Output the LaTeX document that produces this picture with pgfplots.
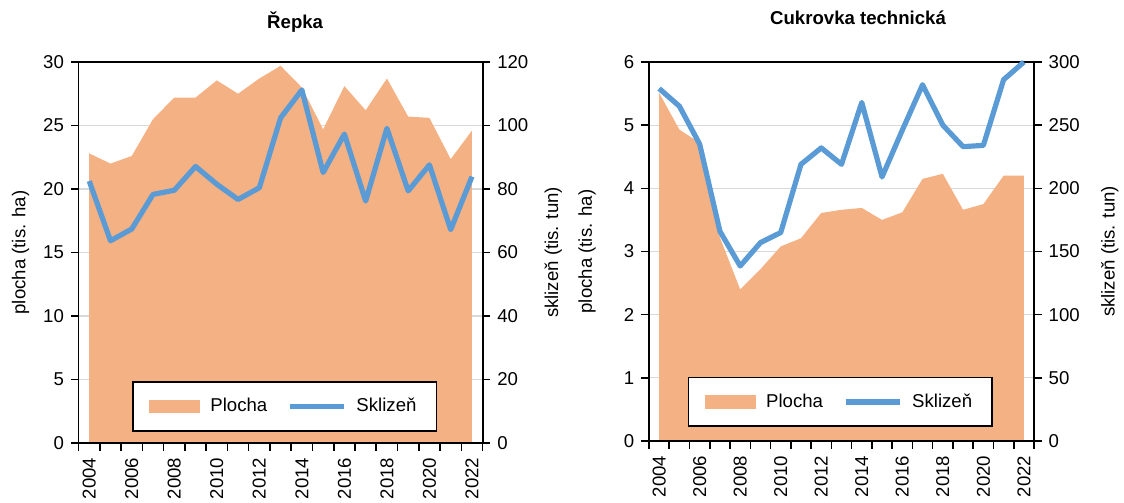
\documentclass[border=0pt]{standalone}
\usepackage{fontspec}
\setmainfont{Liberation Sans}
\usepackage{pgfplots}
\usepackage{pgfplotstable}
\pgfplotsset{compat=1.18}

\definecolor{plocha}{HTML}{F4B183}
\definecolor{sklizen}{HTML}{5B9BD5}
\definecolor{mrizka}{HTML}{D9D9D9}

% rok, plocha (tis. ha), sklizen (tis. tun)
\pgfplotstableread{
rok  plocha sklizen
2004 22.8   82.5
2005 22.0   63.7
2006 22.6   67.4
2007 25.5   78.3
2008 27.2   79.6
2009 27.2   87.1
2010 28.55  81.5
2011 27.5   76.7
2012 28.7   80.4
2013 29.7   102.4
2014 28.0   111.2
2015 24.7   85.2
2016 28.1   97.3
2017 26.2   76.2
2018 28.7   99.1
2019 25.7   79.4
2020 25.6   87.6
2021 22.35  67.2
2022 24.6   83.9
}\repka

\pgfplotstableread{
rok  plocha sklizen
2004 5.51   279
2005 4.93   265
2006 4.72   235
2007 3.22   166
2008 2.40   138.5
2009 2.72   157
2010 3.08   165
2011 3.21   219
2012 3.61   232
2013 3.66   219
2014 3.69   268
2015 3.50   209
2016 3.62   246
2017 4.15   282
2018 4.23   250
2019 3.66   233
2020 3.75   234
2021 4.20   286
2022 4.20   300
}\cukrovka

\newcommand{\fnt}{\fontsize{9.3}{11}\selectfont}

\pgfplotsset{
  zaklad/.style={
    scale only axis,
    xmin=2003.5, xmax=2022.5, ymin=0,
    tick align=outside,
    major tick length=3.8pt, minor tick length=3.8pt,
    axis line style={line width=0.9pt},
    tick style={black, line width=0.8pt},
    tick label style={font=\fnt},
    label style={font=\fnt},
    title style={font=\bfseries\fnt, anchor=center},
    /pgf/number format/assume math mode=true,
    clip=false,
  },
  spodni/.style={
    zaklad,
    xtick={2004,2006,...,2022},
    xticklabels={2004,2006,2008,2010,2012,2014,2016,2018,2020,2022},
    minor xtick={2003.5,2004.5,...,2022.5},
    major x tick style={draw=none},
    xtick pos=left, ytick pos=left,
    xticklabel style={rotate=90, anchor=east},
    ymajorgrids,
    grid style={mrizka, line width=0.6pt},
  },
  horni/.style={
    zaklad,
    xtick=\empty,
    ytick pos=right,
    legend columns=2,
    legend style={draw=black, line width=0.8pt, font=\fnt,
      inner xsep=8pt, inner ysep=6pt,
      /tikz/every odd column/.append style={column sep=3pt},
      /tikz/every even column/.append style={column sep=8pt}},
  },
}

\begin{document}
\begin{tikzpicture}
\useasboundingbox (-39.3pt,-30pt) rectangle (522.7pt,221.5pt);

% ---- Repka ----
\begin{axis}[spodni, at={(0pt,0pt)}, anchor=south west,
    width=202pt, height=190.5pt,
    ymax=30, ytick={0,5,...,30},
    title={Řepka}, title style={at={(0.536,1.0735)}},
    ylabel={plocha (tis. ha)},
    ylabel style={at={(axis description cs:-0.1436,0.5)}, anchor=center}]
\addplot[fill=plocha, draw=none] table[x=rok, y=plocha] {\repka} \closedcycle;
\end{axis}
\begin{axis}[horni, at={(0pt,0pt)}, anchor=south west,
    width=202pt, height=190.5pt,
    ymax=120, ytick={0,20,...,120},
    ylabel={sklizeň (tis. tun)},
    ylabel style={at={(axis description cs:1.175,0.5)}, anchor=center},
    legend style={at={(0.51,0.03)}, anchor=south}]
\addlegendimage{legend image code/.code={\fill[plocha] (0pt,-2.9pt) rectangle (25pt,2.9pt);}}
\addlegendentry{Plocha}
\addplot[sklizen, line width=2.6pt, line join=round,
    legend image code/.code={\draw[sklizen, line width=2.6pt] (0pt,0pt) -- (27pt,0pt);}]
    table[x=rok, y=sklizen] {\repka};
\addlegendentry{Sklizeň}
\end{axis}

% ---- Cukrovka technicka ----
\begin{axis}[spodni, at={(285.2pt,1pt)}, anchor=south west,
    width=192.5pt, height=189.5pt,
    ymax=6, ytick={0,1,...,6},
    title={Cukrovka technická}, title style={at={(0.543,1.084)}},
    ylabel={plocha (tis. ha)},
    ylabel style={at={(axis description cs:-0.161,0.5)}, anchor=center}]
\addplot[fill=plocha, draw=none] table[x=rok, y=plocha] {\cukrovka} \closedcycle;
\end{axis}
\begin{axis}[horni, at={(285.2pt,1pt)}, anchor=south west,
    width=192.5pt, height=189.5pt,
    ymax=300, ytick={0,50,...,300},
    ylabel={sklizeň (tis. tun)},
    ylabel style={at={(axis description cs:1.197,0.5)}, anchor=center},
    legend style={at={(0.497,0.037)}, anchor=south}]
\addlegendimage{legend image code/.code={\fill[plocha] (0pt,-2.9pt) rectangle (25pt,2.9pt);}}
\addlegendentry{Plocha}
\addplot[sklizen, line width=2.6pt, line join=round,
    legend image code/.code={\draw[sklizen, line width=2.6pt] (0pt,0pt) -- (27pt,0pt);}]
    table[x=rok, y=sklizen] {\cukrovka};
\addlegendentry{Sklizeň}
\end{axis}
\end{tikzpicture}
\end{document}
